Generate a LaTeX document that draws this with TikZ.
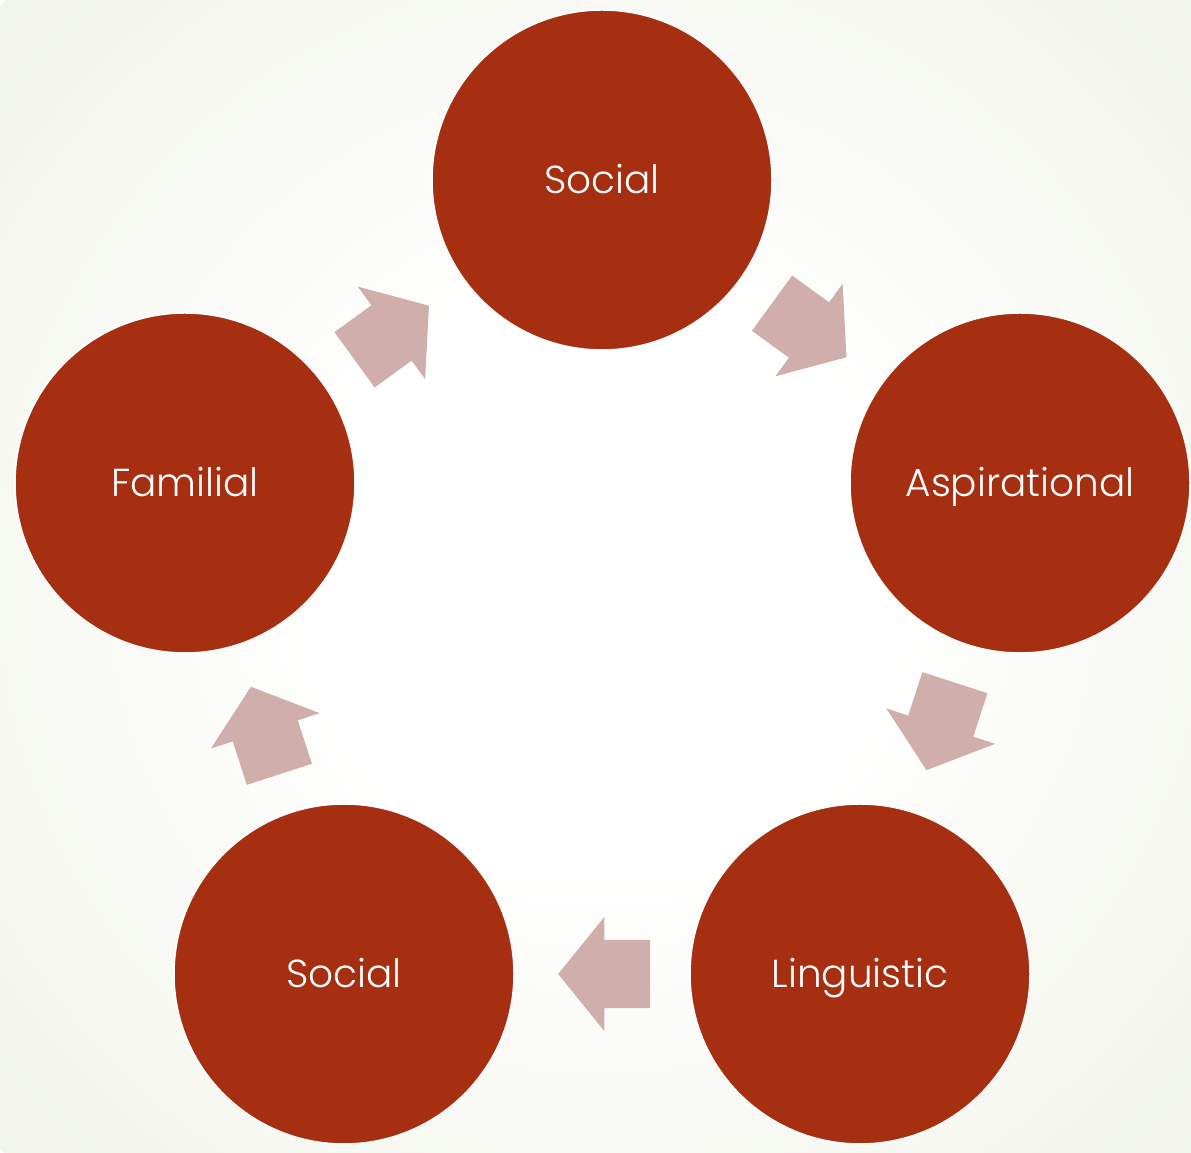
\documentclass[tikz,border=0pt]{standalone}
\usepackage{fontspec}
\setmainfont{Poppins}[UprightFont=* Light]
\usetikzlibrary{shapes.arrows,calc}
\definecolor{rust}{HTML}{A62F11}
\definecolor{blush}{HTML}{D0AEAC}
\definecolor{paleleaf}{HTML}{EDF2E0}
\definecolor{mistleaf}{HTML}{F4F6EE}
\definecolor{deepleaf}{HTML}{E6EDD4}
\pgfdeclareradialshading{softglow}{\pgfpoint{0bp}{0bp}}{%
  color(0bp)=(white); color(8bp)=(white); color(22bp)=(mistleaf);
  color(33bp)=(paleleaf); color(50bp)=(deepleaf)}
\begin{document}
\begin{tikzpicture}[x=1pt,y=1pt,
  stage/.style={circle, fill=rust, draw=white, line width=1.5pt,
    minimum size=340pt, inner sep=0pt, text height=28pt, text depth=0pt,
    text=white, font=\fontsize{39}{41}\selectfont},
  flow/.style={single arrow, fill=blush, draw=none,
    inner xsep=0pt, inner ysep=34pt,
    minimum height=92pt, minimum width=114pt,
    single arrow head extend=23pt, single arrow tip angle=102}]
  % backdrop: soft glow fading to pale green towards the corners
  \begin{scope}
    \clip (0,0) rectangle (1191,1153);
    \shade[shading=softglow] (602,576) circle (830);
  \end{scope}
  \useasboundingbox (0,0) rectangle (1191,1153);
  % the five stages
  \node[stage] (top)  at (602,973) {Social};
  \node[stage] (asp)  at (1020,670) {Aspirational};
  \node[stage] (ling) at (860,179) {Linguistic};
  \node[stage] (soc)  at (344,179) {Social};
  \node[stage] (fam)  at (185,670) {Familial};
  % arrows between neighbouring stages, centred on the gap
  \node[flow, rotate=-36]  (a1) at ($(top)!0.5!(asp) + (-36:-16)$) {};
  \node[flow, rotate=-108] (a2) at ($(asp)!0.5!(ling) + (-108:-16)$) {};
  \node[flow, rotate=180]  (a3) at ($(ling)!0.5!(soc) + (180:-16)$) {};
  \node[flow, rotate=108]  (a4) at ($(soc)!0.5!(fam) + (108:-16)$) {};
  \node[flow, rotate=36]   (a5) at ($(fam)!0.5!(top) + (36:-16)$) {};
\end{tikzpicture}
\end{document}
